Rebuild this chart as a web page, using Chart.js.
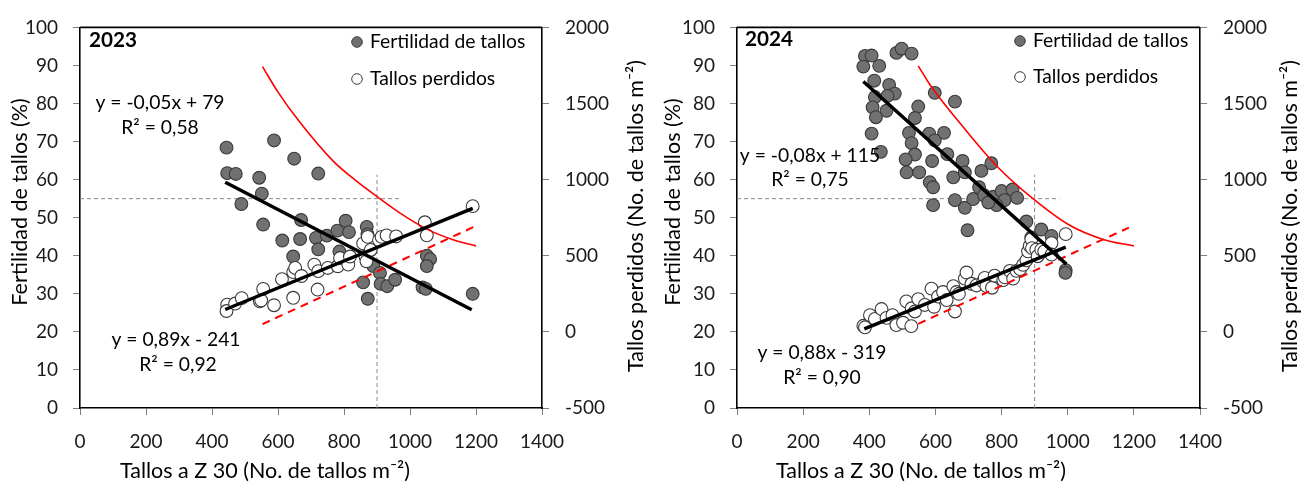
<!DOCTYPE html>
<html>
<head>
<meta charset="utf-8">
<script src="https://cdn.jsdelivr.net/npm/chart.js@4.4.1/dist/chart.umd.min.js"></script>
<style>
  html, body { margin: 0; padding: 0; background: #fff; }
  body { width: 1310px; height: 487px; position: relative; overflow: hidden; }
  .panel { position: absolute; top: 0; width: 655px; height: 487px; }
  #p2023 { left: 0; }
  #p2024 { left: 655px; }
</style>
</head>
<body>
<div class="panel" id="p2023"><canvas id="c2023" width="655" height="487"></canvas></div>
<div class="panel" id="p2024"><canvas id="c2024" width="655" height="487"></canvas></div>
<script>
// ---- 2023 ----
const stems2023Fert = [444, 588, 649, 722, 446, 472, 543, 551, 489, 555, 670, 613, 667, 646, 715, 722, 748, 780, 805, 815, 786, 869, 871, 858, 872, 889, 909, 911, 931, 955, 1051, 1061, 1051, 1038, 1048, 1190];
const fertility2023 = [68.4, 70.3, 65.5, 61.6, 61.7, 61.5, 60.5, 56.3, 53.6, 48.2, 49.4, 44.0, 44.4, 39.8, 44.7, 41.7, 45.3, 46.6, 49.2, 46.2, 41.1, 47.6, 45.6, 33.0, 28.7, 37.3, 35.5, 32.6, 32.0, 33.7, 40.0, 39.1, 37.3, 31.7, 31.3, 30.0];
const stems2023Lost = [446, 444, 470, 490, 545, 549, 555, 588, 612, 646, 646, 652, 671, 720, 710, 722, 751, 781, 788, 813, 818, 858, 865, 868, 872, 881, 906, 914, 929, 958, 1045, 1051, 1190];
const lost2023 = [179, 137, 186, 222, 201, 207, 282, 175, 346, 224, 393, 420, 367, 278, 442, 399, 420, 431, 485, 442, 495, 581, 495, 464, 624, 538, 602, 624, 634, 627, 720, 634, 826];
const fertTrend2023X = [440, 1187];
const fertTrend2023Y = [59.3, 25.8];
const lostTrend2023X = [440, 1190];
const lostTrend2023Y = [147, 811];
const refCurve2023X = [553, 600, 667, 768, 838, 904, 970, 1051, 1131, 1200];
const refCurve2023Y = [89.7, 83.0, 75.0, 64.8, 59.6, 55.3, 51.2, 47.0, 44.2, 42.6];
const refLine2023X = [553, 1192];
const refLine2023Y = [51, 688];

// ---- 2024 ----
const stems2024Fert = [387, 407, 382, 430, 482, 498, 528, 415, 460, 477, 417, 455, 410, 452, 420, 407, 435, 598, 659, 548, 538, 520, 581, 626, 598, 528, 538, 510, 590, 636, 513, 551, 583, 593, 593, 682, 654, 689, 739, 769, 732, 659, 689, 714, 747, 775, 800, 833, 847, 809, 785, 760, 697, 875, 890, 920, 951, 994, 993];
const fertility2024 = [92.5, 92.6, 89.7, 89.9, 93.3, 94.4, 93.1, 86.0, 84.9, 82.6, 81.7, 82.0, 79.0, 78.1, 76.4, 72.1, 67.3, 82.8, 80.5, 79.2, 76.2, 72.3, 72.1, 72.3, 70.3, 69.6, 66.6, 65.3, 64.9, 66.7, 61.9, 61.9, 59.3, 58.0, 53.3, 64.9, 60.6, 61.9, 62.3, 64.3, 58.0, 54.6, 52.6, 54.9, 55.9, 55.5, 57.0, 57.4, 55.2, 54.6, 53.3, 54.0, 46.7, 49.0, 44.8, 46.9, 45.2, 36.2, 35.5];
const stems2024Lost = [382, 387, 402, 417, 437, 452, 470, 482, 502, 512, 527, 528, 538, 548, 568, 588, 596, 608, 623, 634, 654, 659, 664, 671, 689, 694, 709, 724, 744, 749, 754, 771, 779, 805, 810, 825, 835, 845, 856, 865, 875, 880, 885, 890, 892, 905, 909, 920, 929, 951, 951, 994];
const lost2024 = [40, 30, 110, 85, 150, 92, 110, 45, 60, 200, 38, 155, 134, 215, 177, 284, 165, 232, 262, 209, 300, 134, 262, 250, 350, 390, 316, 305, 330, 355, 300, 290, 369, 340, 358, 401, 350, 401, 412, 440, 470, 529, 565, 610, 550, 540, 497, 540, 529, 583, 508, 642];
const fertTrend2024X = [382, 996];
const fertTrend2024Y = [85.8, 37.8];
const lostTrend2024X = [385, 994];
const lostTrend2024Y = [20, 556];
const refCurve2024X = [548, 583, 684, 785, 895, 1006, 1107, 1200];
const refCurve2024Y = [89.9, 85.0, 73.8, 63.6, 55.0, 48.0, 44.3, 42.6];
const refLine2024X = [548, 1185];
const refLine2024Y = [53, 685];

// threshold guides
const guideFertX = [0, 975];
const guideFertY = [55, 55];
const guideStemsX = [900, 900];
const guideStemsY = [0, 61.3];

// axis ranges, tick labels and titles
const xTicks = [0, 200, 400, 600, 800, 1000, 1200, 1400];
const leftTicks = [0, 10, 20, 30, 40, 50, 60, 70, 80, 90, 100];
const rightTicks = [-500, 0, 500, 1000, 1500, 2000];
const xTitle = 'Tallos a Z 30 (No. de tallos m⁻²)';
const leftTitle = 'Fertilidad de tallos (%)';
const rightTitle = 'Tallos perdidos (No. de tallos m⁻²)';
const seriesNames = ['Fertilidad de tallos', 'Tallos perdidos'];

const FONT = 'Lato, "Open Sans", sans-serif';

// pick a font size so that a sample string spans a given width
const measureCtx = document.createElement('canvas').getContext('2d');
function sizeForWidth(sample, width, weight) {
  measureCtx.font = (weight || 'normal') + ' 100px ' + FONT;
  return Math.round(100 * width / measureCtx.measureText(sample).width * 10) / 10;
}
const tickSize = sizeForWidth('1000', 44);
const titleSize = sizeForWidth(xTitle, 290);
const noteSize = sizeForWidth(seriesNames[0], 155);
const yearSize = sizeForWidth('2023', 48, 'bold');

const pts = (xs, ys) => xs.map((x, i) => ({ x, y: ys[i] }));

function buildChart(canvasId, cfg) {
  const tickFont = { family: FONT, size: tickSize };
  const axisCommon = {
    type: 'linear',
    grid: { drawOnChartArea: false, drawTicks: true, tickLength: 7, color: '#7f7f7f', lineWidth: 1 },
    border: { display: true, color: '#000', width: 1.6 },
  };
  const textPlugin = {
    id: 'panelText',
    afterDatasetsDraw(chart) {
      const { ctx, chartArea: a } = chart;
      ctx.save();
      // closing line along the top of the plot frame
      ctx.strokeStyle = '#000';
      ctx.lineWidth = 1.6;
      ctx.beginPath();
      ctx.moveTo(a.left, a.top);
      ctx.lineTo(a.right, a.top);
      ctx.stroke();

      ctx.fillStyle = '#000';
      ctx.textBaseline = 'middle';
      ctx.font = 'bold ' + yearSize + 'px ' + FONT;
      ctx.textAlign = 'left';
      ctx.fillText(cfg.year, cfg.yearPos[0], cfg.yearPos[1]);

      ctx.font = noteSize + 'px ' + FONT;
      ctx.textAlign = 'center';
      cfg.notes.forEach(n => ctx.fillText(n.text, n.x, n.y));

      // legend
      ctx.textAlign = 'left';
      const fills = ['#6f6f6f', '#ffffff'];
      cfg.legendRows.forEach((yy, i) => {
        ctx.beginPath();
        ctx.arc(cfg.legendX, yy, 5.3, 0, Math.PI * 2);
        ctx.fillStyle = fills[i];
        ctx.fill();
        ctx.lineWidth = 1;
        ctx.strokeStyle = '#3a3a3a';
        ctx.stroke();
        ctx.fillStyle = '#000';
        ctx.fillText(seriesNames[i], cfg.legendX + 13, yy);
      });

      // axis titles
      ctx.font = titleSize + 'px ' + FONT;
      ctx.textAlign = 'center';
      ctx.fillText(xTitle, cfg.xTitlePos[0], cfg.xTitlePos[1]);
      ctx.save();
      ctx.translate(cfg.leftTitlePos[0], cfg.leftTitlePos[1]);
      ctx.rotate(-Math.PI / 2);
      ctx.fillText(leftTitle, 0, 0);
      ctx.restore();
      ctx.save();
      ctx.translate(cfg.rightTitlePos[0], cfg.rightTitlePos[1]);
      ctx.rotate(-Math.PI / 2);
      ctx.fillText(rightTitle, 0, 0);
      ctx.restore();
      ctx.restore();
    }
  };

  const plainNumber = v => String(v);

  return new Chart(document.getElementById(canvasId), {
    data: {
      datasets: [
        { type: 'line', data: pts(cfg.fertTrendX, cfg.fertTrendY), yAxisID: 'y', borderColor: '#000', borderWidth: 3.5, pointRadius: 0, order: 0 },
        { type: 'line', data: pts(cfg.lostTrendX, cfg.lostTrendY), yAxisID: 'y2', borderColor: '#000', borderWidth: 3.5, pointRadius: 0, order: 0 },
        { type: 'line', data: pts(cfg.curveX, cfg.curveY), yAxisID: 'y', borderColor: '#ff0000', borderWidth: 1.6, pointRadius: 0, cubicInterpolationMode: 'monotone', order: 1 },
        { type: 'line', data: pts(cfg.refX, cfg.refY), yAxisID: 'y2', borderColor: '#ff0000', borderWidth: 2, borderDash: [8, 6], pointRadius: 0, order: 1 },
        { type: 'line', data: pts(guideFertX, guideFertY), yAxisID: 'y', borderColor: '#8a8a8a', borderWidth: 1, borderDash: [4, 3], pointRadius: 0, order: 5 },
        { type: 'line', data: pts(guideStemsX, guideStemsY), yAxisID: 'y', borderColor: '#8a8a8a', borderWidth: 1, borderDash: [4, 3], pointRadius: 0, order: 5 },
        { type: 'scatter', label: seriesNames[1], data: pts(cfg.lostX, cfg.lostY), yAxisID: 'y2', backgroundColor: '#ffffff', borderColor: '#3a3a3a', borderWidth: 1.1, pointRadius: 6.4, order: 2 },
        { type: 'scatter', label: seriesNames[0], data: pts(cfg.fertX, cfg.fertY), yAxisID: 'y', backgroundColor: '#717171', borderColor: '#3a3a3a', borderWidth: 1.1, pointRadius: 6.4, order: 3 },
      ]
    },
    options: {
      responsive: false,
      devicePixelRatio: 1,
      animation: false,
      events: [],
      layout: { padding: { top: 18, left: 0, right: 0, bottom: 0 } },
      plugins: { legend: { display: false }, tooltip: { enabled: false } },
      scales: {
        x: {
          ...axisCommon, position: 'bottom', min: 0, max: 1400,
          afterBuildTicks: s => { s.ticks = xTicks.map(v => ({ value: v })); },
          ticks: { font: tickFont, color: '#1a1a1a', padding: 15, maxRotation: 0, autoSkip: false, callback: plainNumber },
          afterFit: s => { s.height = 79; }
        },
        y: {
          ...axisCommon, position: 'left', min: 0, max: 100,
          afterBuildTicks: s => { s.ticks = leftTicks.map(v => ({ value: v })); },
          ticks: { font: tickFont, color: '#1a1a1a', padding: 15, autoSkip: false, callback: plainNumber },
          afterFit: s => { s.width = cfg.leftWidth; }
        },
        y2: {
          ...axisCommon, position: 'right', min: -500, max: 2000,
          afterBuildTicks: s => { s.ticks = rightTicks.map(v => ({ value: v })); },
          ticks: { font: tickFont, color: '#1a1a1a', padding: 16, autoSkip: false, callback: plainNumber },
          afterFit: s => { s.width = cfg.rightWidth; }
        }
      }
    },
    plugins: [textPlugin]
  });
}

buildChart('c2023', {
  fertX: stems2023Fert, fertY: fertility2023, lostX: stems2023Lost, lostY: lost2023,
  fertTrendX: fertTrend2023X, fertTrendY: fertTrend2023Y, lostTrendX: lostTrend2023X, lostTrendY: lostTrend2023Y,
  curveX: refCurve2023X, curveY: refCurve2023Y, refX: refLine2023X, refY: refLine2023Y,
  leftWidth: 80, rightWidth: 113,
  xTitlePos: [265, 471], leftTitlePos: [20, 202], rightTitlePos: [636, 216],
  year: '2023', yearPos: [89, 40],
  notes: [
    { text: 'y = -0,05x + 79', x: 160, y: 103 },
    { text: 'R² = 0,58', x: 160, y: 128 },
    { text: 'y = 0,89x - 241', x: 176, y: 340 },
    { text: 'R² = 0,92', x: 178, y: 365 },
  ],
  legendX: 357, legendRows: [42, 79]
});

buildChart('c2024', {
  fertX: stems2024Fert, fertY: fertility2024, lostX: stems2024Lost, lostY: lost2024,
  fertTrendX: fertTrend2024X, fertTrendY: fertTrend2024Y, lostTrendX: lostTrend2024X, lostTrendY: lostTrend2024Y,
  curveX: refCurve2024X, curveY: refCurve2024Y, refX: refLine2024X, refY: refLine2024Y,
  leftWidth: 82, rightWidth: 110,
  xTitlePos: [266, 471], leftTitlePos: [18, 202], rightTitlePos: [635, 216],
  year: '2024', yearPos: [90, 39],
  notes: [
    { text: 'y = -0,08x + 115', x: 155, y: 156 },
    { text: 'R² = 0,75', x: 155, y: 180 },
    { text: 'y = 0,88x - 319', x: 167, y: 353 },
    { text: 'R² = 0,90', x: 167, y: 378 },
  ],
  legendX: 365, legendRows: [41, 77]
});
</script>
</body>
</html>
